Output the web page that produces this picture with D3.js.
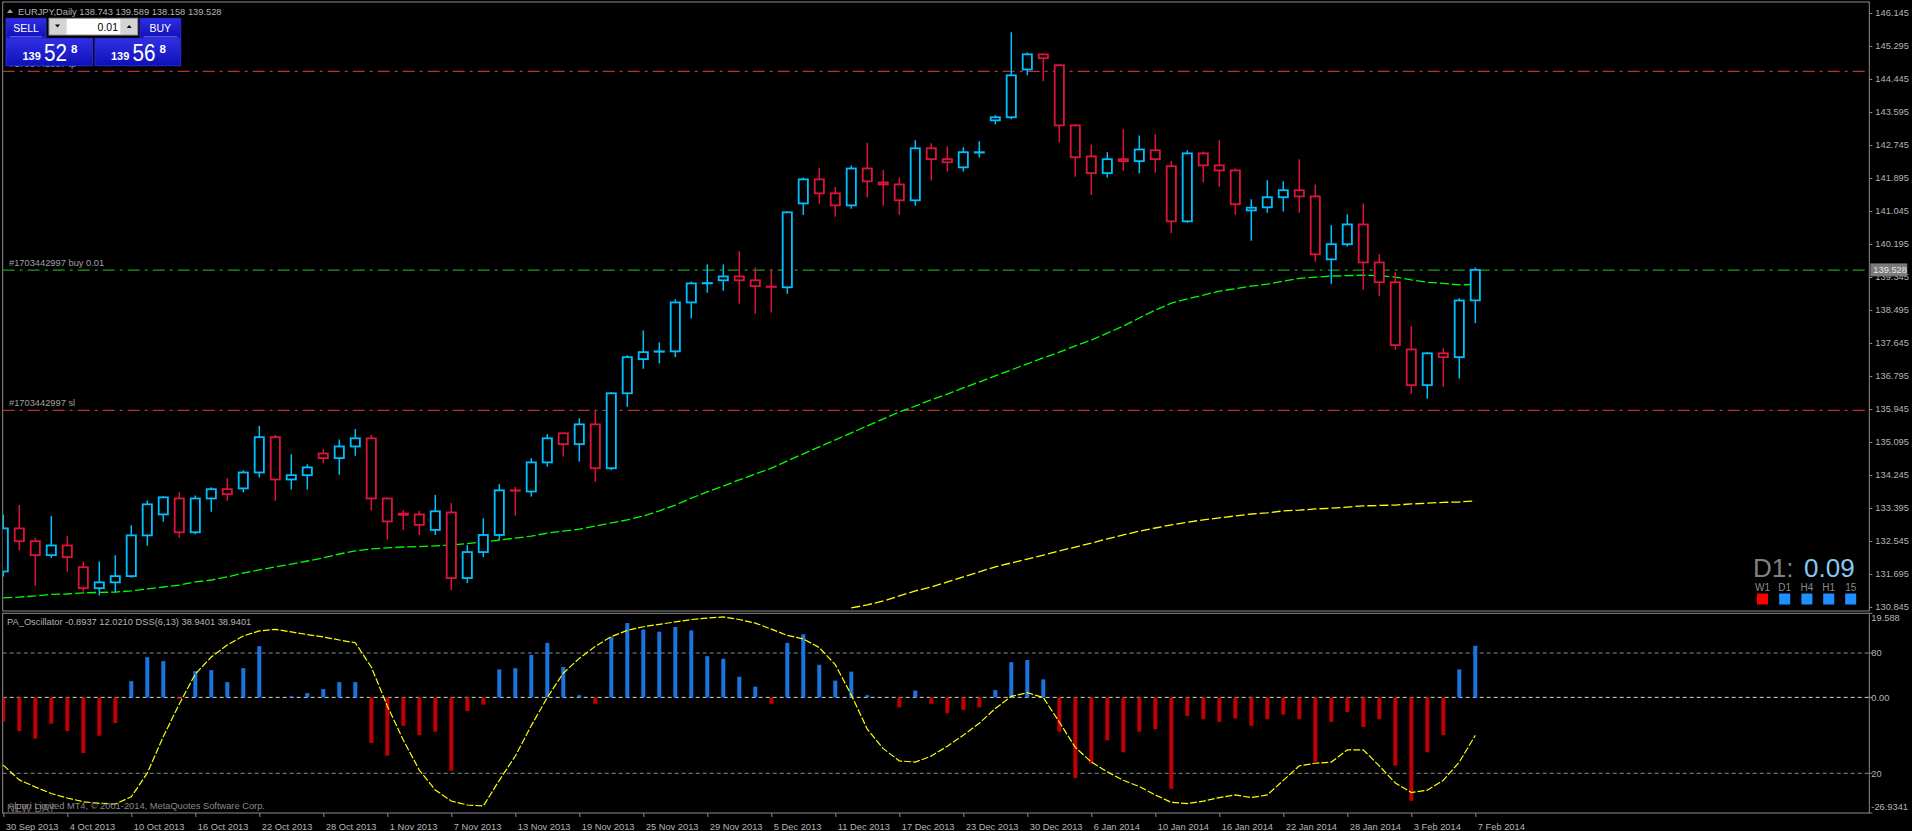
<!DOCTYPE html>
<html>
<head>
<meta charset="utf-8">
<script src="https://cdn.jsdelivr.net/npm/d3@7"></script>
<style>
  html, body { margin: 0; padding: 0; background: #000; overflow: hidden; }
  svg { display: block; }
  text { font-family: "Liberation Sans", Arial, sans-serif; }
</style>
</head>
<body>
<svg id="chart" width="1912" height="831"></svg>
<script>
// ---- data (EURJPY daily, 30 Sep 2013 .. 7 Feb 2014) ----
var dateLabels = ['30 Sep 2013','4 Oct 2013','10 Oct 2013','16 Oct 2013','22 Oct 2013','28 Oct 2013',
  '1 Nov 2013','7 Nov 2013','13 Nov 2013','19 Nov 2013','25 Nov 2013','29 Nov 2013','5 Dec 2013',
  '11 Dec 2013','17 Dec 2013','23 Dec 2013','30 Dec 2013','6 Jan 2014','10 Jan 2014','16 Jan 2014',
  '22 Jan 2014','28 Jan 2014','3 Feb 2014','7 Feb 2014'];

var opens = [131.76,132.87,132.54,132.18,132.43,131.87,131.33,131.48,131.64,132.69,
  133.23,133.64,132.77,133.64,133.88,133.90,134.31,135.22,134.13,134.24,
  134.80,134.68,134.98,135.19,133.64,133.25,133.23,132.83,133.28,131.59,
  132.26,132.70,133.85,133.82,134.57,135.32,135.04,135.55,134.42,136.35,
  137.23,137.42,137.43,138.69,139.18,139.26,139.36,139.26,139.10,139.08,
  141.24,141.86,141.50,141.19,142.14,141.78,141.73,141.32,142.66,142.38,
  142.17,142.55,143.38,143.46,144.69,145.08,144.80,143.25,142.45,142.02,
  142.38,142.33,142.61,142.20,140.78,142.53,142.22,142.09,141.06,141.14,
  141.40,141.58,141.42,139.80,140.19,140.70,139.72,139.21,137.48,136.56,
  137.38,137.28,138.743];
var highs = [133.22,133.47,132.62,133.19,132.67,132.02,132.02,132.18,132.95,133.59,
  133.70,133.80,133.72,133.93,134.16,134.37,135.51,135.28,134.78,134.52,
  134.91,135.16,135.43,135.28,133.67,133.34,133.32,133.73,133.52,132.44,
  133.13,134.01,133.94,134.68,135.30,135.34,135.71,135.91,136.38,137.33,
  137.97,137.66,138.77,139.23,139.67,139.67,140.01,139.59,139.54,141.04,
  141.91,142.15,141.66,142.22,142.80,142.10,141.91,142.87,142.79,142.71,
  142.69,142.84,143.51,145.65,145.13,145.09,144.82,143.28,142.76,142.56,
  143.15,142.99,143.02,142.33,142.61,142.58,142.87,142.14,141.35,141.84,
  141.81,142.38,141.73,140.68,140.96,141.24,139.93,139.47,138.08,137.41,
  137.51,138.80,139.589];
var lows = [131.63,132.30,131.39,132.11,131.75,131.24,131.14,131.22,131.60,132.42,
  133.04,132.63,132.72,133.30,133.58,133.80,134.18,133.58,133.87,133.87,
  134.55,134.25,134.74,133.33,132.58,132.83,132.70,132.70,131.28,131.46,
  132.13,132.57,133.20,133.69,134.46,134.72,134.59,134.07,134.37,136.00,
  136.98,137.12,137.28,138.28,138.94,138.99,138.66,138.40,138.43,138.91,
  140.94,141.23,140.90,141.10,141.39,141.18,140.95,141.18,141.83,142.06,
  142.06,142.42,143.28,143.41,144.54,144.39,142.81,141.93,141.46,141.91,
  142.08,142.02,142.03,140.47,140.74,141.78,141.67,140.95,140.28,141.00,
  141.03,141.00,139.74,139.17,140.13,139.02,138.86,137.47,136.34,136.21,
  136.52,136.73,138.158];
var closes = [132.87,132.54,132.18,132.43,132.13,131.33,131.48,131.64,132.69,133.49,
  133.67,132.77,133.64,133.88,133.75,134.31,135.22,134.13,134.24,134.44,
  134.68,134.98,135.19,133.64,133.05,133.22,132.96,133.31,131.59,132.26,
  132.70,133.85,133.84,134.57,135.19,135.04,135.55,134.42,136.35,137.28,
  137.41,137.43,138.69,139.18,139.19,139.36,139.26,139.11,139.09,141.01,
  141.86,141.50,141.19,142.14,141.81,141.73,141.32,142.66,142.38,142.30,
  142.56,142.56,143.46,144.54,145.08,144.98,143.25,142.43,142.02,142.38,
  142.33,142.63,142.38,140.78,142.53,142.22,142.09,141.22,141.13,141.40,
  141.58,141.42,139.93,140.19,140.70,139.72,139.21,137.59,136.56,137.38,
  137.28,138.74,139.528];

// green moving average, one value per bar
var maFast = [131.08,131.10,131.13,131.17,131.18,131.21,131.22,131.23,131.26,131.31,
  131.36,131.41,131.49,131.54,131.62,131.72,131.80,131.88,131.95,132.03,
  132.11,132.21,132.29,132.34,132.37,132.39,132.40,132.42,132.44,132.48,
  132.52,132.57,132.62,132.67,132.75,132.80,132.85,132.93,133.01,133.09,
  133.19,133.32,133.47,133.65,133.81,133.96,134.12,134.27,134.42,134.61,
  134.79,134.97,135.15,135.33,135.51,135.69,135.87,136.02,136.18,136.33,
  136.49,136.64,136.80,136.95,137.11,137.26,137.41,137.57,137.72,137.90,
  138.08,138.29,138.49,138.67,138.78,138.88,138.98,139.04,139.11,139.16,
  139.24,139.31,139.34,139.37,139.38,139.39,139.38,139.34,139.27,139.21,
  139.18,139.14,139.16];

// yellow moving average, visible from bar 53 on
var maSlowStart = 53;
var maSlow = [130.82,130.90,131.00,131.13,131.26,131.36,131.49,131.62,131.75,131.88,
  131.98,132.08,132.18,132.29,132.39,132.49,132.60,132.70,132.80,132.88,
  132.96,133.03,133.09,133.14,133.19,133.24,133.27,133.32,133.34,133.37,
  133.39,133.42,133.45,133.46,133.47,133.50,133.52,133.54,133.55,133.58];

// PA_Oscillator histogram and DSS line
var paHist = [-5.67,-7.84,-9.63,-6.14,-7.84,-12.95,-8.93,-5.98,3.79,9.37,
  8.44,-0.40,6.12,6.35,3.56,6.81,11.93,0,0.23,1.0,
  1.93,3.56,3.56,-10.63,-13.58,-6.6,-8.8,-8.0,-17.1,-3.2,
  -1.7,6.5,6.8,9.9,12.7,7.1,0.5,-1.5,14.1,17.3,
  15.8,15.3,16.4,15.6,9.6,9.0,4.8,2.5,-1.5,12.7,
  14.7,7.6,3.9,6.0,0.5,0,-2.3,1.6,-1.5,-3.7,
  -2.9,-2.3,1.7,8.2,8.7,4.2,-8.0,-18.8,-15.4,-10.0,
  -12.8,-8.0,-7.4,-21.3,-4.3,-5.1,-5.7,-4.9,-6.6,-5.1,
  -4.0,-5.1,-15.1,-5.7,-3.4,-6.9,-5.1,-15.9,-24.1,-12.8,
  -8.8,6.5,12.02];
var dss = [24.1,16.7,13.2,9.9,7.7,5.8,5.0,4.7,8.3,20.1,
  38.3,54.6,69.5,78.0,84.0,88.5,91.0,91.8,90.5,89.2,
  88.0,86.5,85.1,73.0,53.6,36.6,21.6,11.7,6.2,4.2,
  3.7,16.5,28.6,43.8,57.8,70.0,77.3,83.3,88.2,91.3,
  93.1,94.3,95.5,96.7,97.4,98.0,96.7,94.9,91.9,88.8,
  87.0,82.7,74.2,59.1,42.0,32.3,26.2,25.6,28.6,33.5,
  39.0,45.0,52.3,58.4,60.2,57.8,45.6,32.9,25.6,20.7,
  16.5,13.4,9.2,5.5,4.9,6.1,7.9,9.2,7.9,9.2,
  16.5,23.7,25.0,25.6,31.7,31.7,23.7,15.2,10.4,11.6,
  16.5,25.6,38.94];

var priceTicks = [146.145,145.295,144.445,143.595,142.745,141.895,141.045,140.195,139.345,
  138.495,137.645,136.795,135.945,135.095,134.245,133.395,132.545,131.695,130.845];
var oscTicks = [19.588, 0, -26.9341];
var oscTickText = ['19.588', '0.00', '-26.9341'];
var dssLevels = [80, 20];

var orderTp = 144.64, orderOpen = 139.52, orderSl = 135.91;
var lastPrice = 139.528;
var tfNames = ['W1', 'D1', 'H4', 'H1', '15'];
var tfUp = [false, true, true, true, true];

// ---- layout ----
var L = 2.7, R = 1869.3, PT = 2, PB = 611, OT = 613.3, OB = 813;
var bull = '#00bfff', bear = '#dc143c', axisCol = '#8c8c8c', txtCol = '#b4b4b4';
var fs = '9.3px';

var svg = d3.select('#chart');
svg.append('rect').attr('width', 1912).attr('height', 831).attr('fill', '#000');

var x = d3.scaleLinear().domain([0, 92]).range([3.3, 1475.3]);
var y = d3.scaleLinear().domain([130.845, 146.145]).range([607, 13]);
var yo = d3.scaleLinear().domain([-26.9341, 19.588]).range([OB, OT]);
var yd = d3.scaleLinear().domain([0, 100]).range([813.4, 612.9]);

var defs = svg.append('defs');
defs.append('clipPath').attr('id', 'clipP').append('rect')
  .attr('x', L).attr('y', PT).attr('width', R - L).attr('height', PB - PT);
defs.append('clipPath').attr('id', 'clipO').append('rect')
  .attr('x', L).attr('y', OT).attr('width', R - L).attr('height', OB - OT);
var grad = defs.append('linearGradient').attr('id', 'btn').attr('x1', 0).attr('y1', 0).attr('x2', 0).attr('y2', 1);
grad.append('stop').attr('offset', 0).attr('stop-color', '#3030e4');
grad.append('stop').attr('offset', 1).attr('stop-color', '#1010b8');

// frames
svg.append('rect').attr('x', L).attr('y', PT).attr('width', R - L).attr('height', PB - PT)
  .attr('fill', 'none').attr('stroke', axisCol);
svg.append('rect').attr('x', L).attr('y', OT).attr('width', R - L).attr('height', OB - OT)
  .attr('fill', 'none').attr('stroke', axisCol);

// ---- price panel ----
var pp = svg.append('g').attr('clip-path', 'url(#clipP)');

var orders = [
  { p: orderTp, c: '#b83232', t: '#1703442997 tp' },
  { p: orderOpen, c: '#1f9a1f', t: '#1703442997 buy 0.01' },
  { p: orderSl, c: '#b83232', t: '#1703442997 sl' }
];
orders.forEach(function (o) {
  pp.append('line').attr('x1', L).attr('x2', R).attr('y1', y(o.p)).attr('y2', y(o.p))
    .attr('stroke', o.c).attr('stroke-width', 1.3).attr('stroke-dasharray', '12,5,3,5');
  pp.append('text').attr('x', 9).attr('y', y(o.p) - 4).attr('fill', '#a0a0a0')
    .style('font-size', fs).text(o.t);
});

var lineFast = d3.line().x(function (d, i) { return x(i); }).y(function (d) { return y(d); });
pp.append('path').datum(maFast).attr('d', lineFast).attr('fill', 'none')
  .attr('stroke', '#00ff00').attr('stroke-width', 1.3).attr('stroke-dasharray', '9,3');

var lineSlow = d3.line().x(function (d, i) { return x(i + maSlowStart); }).y(function (d) { return y(d); });
pp.append('path').datum(maSlow).attr('d', lineSlow).attr('fill', 'none')
  .attr('stroke', '#ffff00').attr('stroke-width', 1.3).attr('stroke-dasharray', '9,3');

var bars = d3.range(opens.length).map(function (i) {
  return { i: i, o: opens[i], h: highs[i], l: lows[i], c: closes[i] };
});
var cg = pp.selectAll('g.candle').data(bars).enter().append('g').attr('class', 'candle')
  .attr('stroke', function (d) { return d.c >= d.o ? bull : bear; });
cg.append('line')
  .attr('x1', function (d) { return x(d.i); }).attr('x2', function (d) { return x(d.i); })
  .attr('y1', function (d) { return y(d.h); })
  .attr('y2', function (d) { return y(Math.max(d.o, d.c)); })
  .attr('stroke-width', 1.5);
cg.append('line')
  .attr('x1', function (d) { return x(d.i); }).attr('x2', function (d) { return x(d.i); })
  .attr('y1', function (d) { return y(Math.min(d.o, d.c)); })
  .attr('y2', function (d) { return y(d.l); })
  .attr('stroke-width', 1.5);
cg.append('rect')
  .attr('x', function (d) { return x(d.i) - 4.6; }).attr('width', 9.2)
  .attr('y', function (d) { return y(Math.max(d.o, d.c)); })
  .attr('height', function (d) { return Math.abs(y(d.o) - y(d.c)); })
  .attr('fill', '#000').attr('stroke-width', 1.8);

// price axis
var ya = d3.axisRight(y).tickValues(priceTicks).tickSize(3).tickPadding(3).tickFormat(d3.format('.3f'));
var yag = svg.append('g').attr('transform', 'translate(' + R + ',0)').call(ya);
yag.select('.domain').remove();
yag.selectAll('line').attr('stroke', axisCol);
yag.selectAll('text').attr('fill', txtCol).style('font-size', fs);

// last price tag
svg.append('rect').attr('x', R + 1).attr('y', y(lastPrice) - 6.5).attr('width', 37).attr('height', 13)
  .attr('fill', '#7a7a7a');
svg.append('text').attr('x', R + 4).attr('y', y(lastPrice) + 3.3).attr('fill', '#e6e6e6')
  .style('font-size', fs).text(d3.format('.3f')(lastPrice));

// ---- oscillator panel ----
var op = svg.append('g').attr('clip-path', 'url(#clipO)');
op.selectAll('line.lvl').data(dssLevels).enter().append('line').attr('class', 'lvl')
  .attr('x1', L).attr('x2', R).attr('y1', function (d) { return yd(d); }).attr('y2', function (d) { return yd(d); })
  .attr('stroke', '#8a8a8a').attr('stroke-dasharray', '4,3');
op.append('line').attr('x1', L).attr('x2', R).attr('y1', yo(0)).attr('y2', yo(0))
  .attr('stroke', '#d8d8d8').attr('stroke-dasharray', '4,3');

op.selectAll('rect.hist').data(paHist).enter().append('rect').attr('class', 'hist')
  .attr('x', function (d, i) { return x(i) - 2; }).attr('width', 4)
  .attr('y', function (d) { return Math.min(yo(d), yo(0)); })
  .attr('height', function (d) { return Math.abs(yo(d) - yo(0)); })
  .attr('fill', function (d) { return d >= 0 ? '#1c74e0' : '#c00000'; });

var lineDss = d3.line().x(function (d, i) { return x(i); }).y(function (d) { return yd(d); });
op.append('path').datum(dss).attr('d', lineDss).attr('fill', 'none')
  .attr('stroke', '#ffff00').attr('stroke-width', 1.2).attr('stroke-dasharray', '7,2');

// oscillator axis labels
var oag = svg.append('g');
oscTicks.forEach(function (v, k) {
  var yy = yo(v);
  oag.append('line').attr('x1', R).attr('x2', R + 3).attr('y1', yy).attr('y2', yy).attr('stroke', axisCol);
  var ty = k === 0 ? yy + 8 : (k === 2 ? yy - 3 : yy + 3.3);
  oag.append('text').attr('x', R + 2).attr('y', ty).attr('fill', txtCol).style('font-size', fs).text(oscTickText[k]);
});
dssLevels.forEach(function (v) {
  oag.append('line').attr('x1', R).attr('x2', R + 3).attr('y1', yd(v)).attr('y2', yd(v)).attr('stroke', axisCol);
  oag.append('text').attr('x', R + 2).attr('y', yd(v) + 3.3).attr('fill', txtCol).style('font-size', fs).text(v);
});

// time axis
var xa = d3.axisBottom(x).tickValues(d3.range(0, opens.length, 4)).tickSize(4)
  .tickFormat(function (d, i) { return dateLabels[i]; });
var xag = svg.append('g').attr('transform', 'translate(0,' + OB + ')').call(xa);
xag.select('.domain').remove();
xag.selectAll('line').attr('stroke', axisCol);
xag.selectAll('text').attr('fill', txtCol).style('font-size', fs)
  .attr('text-anchor', 'start').attr('dx', 2).attr('y', 10);

// ---- texts ----
svg.append('path').attr('d', 'M7,13 L10,9 L13,13 Z').attr('fill', '#a0a0a0');
svg.append('text').attr('x', 18).attr('y', 14.5).attr('fill', txtCol).style('font-size', fs)
  .text('EURJPY,Daily  138.743 139.589 138.158 139.528');
svg.append('text').attr('x', 7).attr('y', 625).attr('fill', txtCol).style('font-size', fs)
  .text('PA_Oscillator -0.8937 12.0210  DSS(6,13) 38.9401 38.9401');
svg.append('text').attr('x', 7).attr('y', 812).attr('fill', '#6e6e6e').style('font-size', '10.5px')
  .text('NEW  DAY');
svg.append('text').attr('x', 8).attr('y', 809).attr('fill', '#8a8a8a').style('font-size', fs)
  .text('Alpari Limited MT4, \u00a9 2001-2014, MetaQuotes Software Corp.');

// ---- one click trading panel ----
var tp = svg.append('g');
function btn(x0, y0, w, h) {
  tp.append('rect').attr('x', x0).attr('y', y0).attr('width', w).attr('height', h)
    .attr('fill', 'url(#btn)').attr('stroke', '#2a2ad8').attr('stroke-width', 1);
}
btn(6, 18.3, 40, 19);
btn(140, 18.3, 40.7, 19);
btn(6, 38.3, 86.7, 27.4);
btn(95, 38.3, 85.7, 27.4);
[[10, 42], [144, 177]].forEach(function (s) {
  tp.append('line').attr('x1', s[0]).attr('x2', s[1]).attr('y1', 36.8).attr('y2', 36.8).attr('stroke', '#6b6bff');
});
tp.append('text').attr('x', 26).attr('y', 31.5).attr('text-anchor', 'middle').attr('fill', '#fff')
  .style('font-size', '10.5px').text('SELL');
tp.append('text').attr('x', 160.3).attr('y', 31.5).attr('text-anchor', 'middle').attr('fill', '#fff')
  .style('font-size', '10.5px').text('BUY');
tp.append('rect').attr('x', 49).attr('y', 18.3).attr('width', 88.7).attr('height', 16.7)
  .attr('fill', '#d4d4d4').attr('stroke', '#9a9a9a');
tp.append('rect').attr('x', 66.7).attr('y', 19).attr('width', 53.6).attr('height', 15.3).attr('fill', '#fff');
tp.append('path').attr('d', 'M55,24.5 L60,24.5 L57.5,27.5 Z').attr('fill', '#000');
tp.append('path').attr('d', 'M126.7,28 L131.7,28 L129.2,25 Z').attr('fill', '#000');
tp.append('text').attr('x', 118).attr('y', 30.5).attr('text-anchor', 'end').attr('fill', '#000')
  .style('font-size', '10.5px').text('0.01');

var quotes = [{ x0: 22.5, big: '52' }, { x0: 111, big: '56' }];
quotes.forEach(function (q) {
  tp.append('text').attr('x', q.x0).attr('y', 59.5).attr('fill', '#fff').style('font-size', '11px')
    .style('font-weight', 'bold').text('139');
  tp.append('text').attr('x', q.x0 + 21.5).attr('y', 61).attr('fill', '#fff').style('font-size', '23px')
    .attr('transform', 'translate(' + (q.x0 + 21.5) + ',0) scale(0.9,1) translate(' + (-(q.x0 + 21.5)) + ',0)')
    .text(q.big);
  tp.append('text').attr('x', q.x0 + 48.5).attr('y', 52.5).attr('fill', '#fff').style('font-size', '11.5px')
    .style('font-weight', 'bold').text('8');
});

// ---- timeframe widget ----
var tw = svg.append('g');
tw.append('text').attr('x', 1753).attr('y', 576.7).attr('fill', '#808080').style('font-size', '26px').text('D1:');
tw.append('text').attr('x', 1804).attr('y', 576.7).attr('fill', '#86c8f2').style('font-size', '26px').text('0.09');
var tfX = [1762.5, 1784.7, 1806.9, 1828.7, 1850.7];
tfNames.forEach(function (n, k) {
  tw.append('text').attr('x', tfX[k]).attr('y', 591).attr('text-anchor', 'middle').attr('fill', '#8a8a8a')
    .style('font-size', '10px').text(n);
  tw.append('rect').attr('x', tfX[k] - 5.5).attr('y', 593.5).attr('width', 11).attr('height', 11)
    .attr('fill', tfUp[k] ? '#1e90ff' : '#ff0000');
});
</script>
</body>
</html>
